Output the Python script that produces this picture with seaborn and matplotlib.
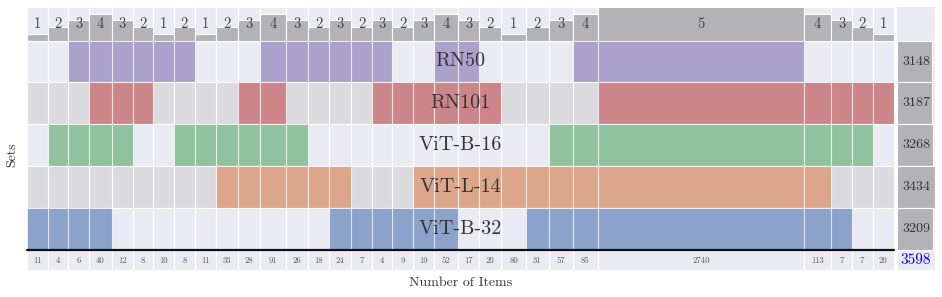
import numpy as np
import matplotlib
matplotlib.use('Agg')
import matplotlib.pyplot as plt
import seaborn as sns

# sets, top to bottom
SETS = ['RN50', 'RN101', 'ViT-B-16', 'ViT-L-14', 'ViT-B-32']
SET_SIZES = [3148, 3187, 3268, 3434, 3209]
TOTAL_ITEMS = 3598

# one entry per intersection column, left to right
COUNTS = [11, 4, 6, 40, 12, 8, 10, 8, 11, 33, 28, 91, 26, 18, 24, 7,
          4, 9, 19, 52, 17, 20, 80, 31, 57, 85, 2740, 113, 7, 7, 20]
# membership as flags for RN50, RN101, ViT-B-16, ViT-L-14, ViT-B-32
MEMBERS = ['00001', '00101', '10101', '11101', '11100', '11000', '10000',
           '10100', '00100', '00110', '01110', '11110', '10110', '10010',
           '10011', '10001', '11001', '01001', '01011', '11011', '11010',
           '01010', '00010', '00011', '00111', '10111', '11111', '01111',
           '01101', '01100', '01000']

sns.set_theme(style='darkgrid')
plt.rcParams['font.family'] = ['cmr10', 'DejaVu Sans']
plt.rcParams['axes.formatter.use_mathtext'] = True

deep = sns.color_palette('deep')
set_colors = [deep[4], deep[3], deep[2], deep[1], deep[0]]
LIGHT = '#eaeaf2'
DARK = '#dadadf'
GREY = '#b2b2b7'
TXT = '#333333'

W, H = 942, 297
fig = plt.figure(figsize=(W / 100, H / 100), dpi=100)


def px_axes(x0, y0, x1, y1):
    ax = fig.add_axes([x0 / W, 1 - y1 / H, (x1 - x0) / W, (y1 - y0) / H])
    ax.axis('off')
    ax.margins(0)
    return ax


# column widths: a minimum width plus a part proportional to the count
counts = np.array(COUNTS)
min_w = 20.13
scale = (867 - len(counts) * min_w) / counts.sum()
widths = min_w + scale * counts
lefts = np.concatenate([[0], np.cumsum(widths)[:-1]])
centers = lefts + widths / 2
total_w = widths.sum()
degree = np.array([m.count('1') for m in MEMBERS])

# degree strip
ax_top = px_axes(27, 7, 894, 40.5)
ax_top.bar(lefts, 5, width=widths, align='edge', color=LIGHT,
           edgecolor='white', linewidth=0.8)
ax_top.bar(lefts, degree, width=widths, align='edge', color=GREY,
           edgecolor='white', linewidth=0.8)
for c, d in zip(centers, degree):
    ax_top.text(c, 2.5, str(d), ha='center', va='center', fontsize=10.5, color='#444444')
ax_top.set_xlim(0, total_w)
ax_top.set_ylim(0, 5)

ax_tr = px_axes(897, 7, 935, 40.5)
ax_tr.bar([0], [1], width=1, align='edge', color=LIGHT, linewidth=0)
ax_tr.set_xlim(0, 1)
ax_tr.set_ylim(0, 1)

# membership matrix
ax_mat = px_axes(27, 40.5, 894, 250)
for r, name in enumerate(SETS):
    bg = LIGHT if r % 2 == 0 else DARK
    ax_mat.bar(lefts, 1, width=widths, bottom=r, align='edge', color=bg,
               edgecolor='white', linewidth=0.8)
    on = np.array([m[r] == '1' for m in MEMBERS])
    ax_mat.bar(lefts[on], 1, width=widths[on], bottom=r, align='edge',
               color=set_colors[r], alpha=0.6, edgecolor='white', linewidth=0.8)
    ax_mat.text(total_w / 2, r + 0.5, name, ha='center', va='center',
                fontsize=14.5, color=TXT)
ax_mat.set_xlim(0, total_w)
ax_mat.set_ylim(len(SETS), 0)

# set sizes
ax_sz = px_axes(897, 40.5, 935, 250)
ymax = max(SET_SIZES)
rows = np.arange(len(SETS))
ax_sz.barh(rows, ymax, height=1, align='edge', color=LIGHT,
           edgecolor='white', linewidth=0.8)
ax_sz.barh(rows, SET_SIZES, height=1, align='edge', color=GREY,
           edgecolor='white', linewidth=0.8)
for r, s in enumerate(SET_SIZES):
    ax_sz.text(ymax / 2, r + 0.5, str(s), ha='center', va='center',
               fontsize=10, color=TXT)
ax_sz.set_xlim(0, ymax)
ax_sz.set_ylim(len(SETS), 0)

# item counts
ax_bot = px_axes(27, 250, 894, 270)
ax_bot.bar(lefts, 1, width=widths, align='edge', color=LIGHT,
           edgecolor='white', linewidth=0.8)
for c, n in zip(centers, COUNTS):
    ax_bot.text(c, 0.45, str(n), ha='center', va='center', fontsize=6.3, color='#555555')
ax_bot.axhline(1, color='#111111', linewidth=1.6, clip_on=False)
ax_bot.set_xlim(0, total_w)
ax_bot.set_ylim(0, 1)

ax_br = px_axes(897, 250, 935, 270)
ax_br.bar([0], [1], width=1, align='edge', color=LIGHT,
          edgecolor='white', linewidth=0.8)
ax_br.text(0.5, 0.5, str(TOTAL_ITEMS), ha='center', va='center',
           fontsize=11, color='blue')
ax_br.set_xlim(0, 1)
ax_br.set_ylim(0, 1)

fig.text(12 / W, 1 - 155 / H, 'Sets', rotation=90, ha='center', va='center',
         fontsize=10, color=TXT)
fig.text(461 / W, 1 - 283 / H, 'Number of Items', ha='center', va='center',
         fontsize=10, color=TXT)

fig.savefig('out.png', dpi=100, facecolor='white')
